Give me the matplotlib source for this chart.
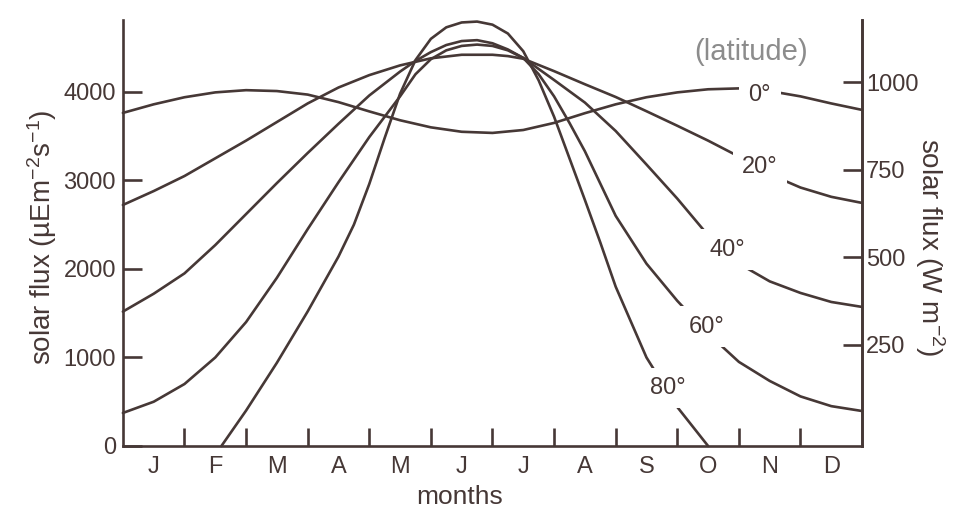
import matplotlib
matplotlib.use("Agg")
from matplotlib import pyplot as plt

plt.rcParams['font.family'] = ['Liberation Sans', 'DejaVu Sans']
plt.rcParams['mathtext.default'] = 'regular'

ink = "#463836"

# month position (0 = start of Jan, 12 = end of Dec) and flux in uE m-2 s-1
months = ["J", "F", "M", "A", "M", "J", "J", "A", "S", "O", "N", "D"]

m_lat0 = [0, 0.5, 1, 1.5, 2, 2.5, 3, 3.5, 4, 4.5, 5, 5.5, 6, 6.5, 7, 7.5,
          8, 8.5, 9, 9.5, 10, 10.5, 11, 11.5, 12]
lat0 = [3763, 3860, 3940, 3995, 4020, 4010, 3970, 3885, 3780, 3680, 3600, 3550,
        3537, 3570, 3650, 3760, 3860, 3940, 3995, 4030, 4040, 4010, 3950, 3870, 3797]

m_lat20 = [0, 0.5, 1, 1.5, 2, 2.5, 3, 3.5, 4, 4.5, 5, 5.5, 6, 6.25, 6.5, 7, 7.5,
           8, 8.5, 9, 9.5, 10, 10.5, 11, 11.5, 12]
lat20 = [2723, 2880, 3050, 3250, 3450, 3660, 3870, 4050, 4190, 4300, 4380, 4420,
         4420, 4405, 4375, 4235, 4087, 3943, 3782, 3618, 3450, 3270, 3070, 2920,
         2815, 2746]

m_lat40 = [0, 0.5, 1, 1.5, 2, 2.5, 3, 3.5, 4, 4.5, 4.75, 5, 5.25, 5.5, 5.75, 6,
           6.25, 6.5, 7, 7.5, 8, 8.5, 9, 9.5, 10, 10.5, 11, 11.5, 12]
lat40 = [1518, 1720, 1950, 2270, 2620, 2970, 3310, 3640, 3960, 4230, 4350, 4450,
         4530, 4575, 4585, 4550, 4480, 4384, 4135, 3880, 3559, 3180, 2795, 2380,
         2060, 1860, 1729, 1627, 1571]

m_lat60 = [0, 0.5, 1, 1.5, 2, 2.5, 3, 3.5, 4, 4.25, 4.5, 4.75, 5, 5.25, 5.5, 5.75,
           6, 6.25, 6.5, 6.75, 7, 7.25, 7.5, 8, 8.5, 9, 9.5, 10, 10.5, 11, 11.5, 12]
lat60 = [373, 500, 700, 1000, 1400, 1900, 2450, 2980, 3490, 3720, 3950, 4200,
         4370, 4470, 4520, 4535, 4520, 4470, 4384, 4200, 3950, 3650, 3330, 2600,
         2060, 1640, 1270, 950, 735, 560, 450, 395]

m_lat80 = [1.6, 2, 2.5, 3, 3.5, 3.75, 4, 4.25, 4.5, 4.75, 5, 5.25, 5.5, 5.75, 6,
           6.25, 6.5, 6.75, 7, 7.25, 7.5, 7.75, 8, 8.5, 9, 9.5]
lat80 = [0, 400, 940, 1520, 2140, 2500, 2960, 3480, 3980, 4360, 4600, 4730, 4785,
         4795, 4760, 4660, 4460, 4130, 3720, 3250, 2780, 2300, 1800, 1000, 440, 0]

# latitude labels: (text, month position, flux)
labels = [("0°", 10.34, 3966), ("20°", 10.34, 3153), ("40°", 9.82, 2215),
          ("60°", 9.48, 1345), ("80°", 8.85, 655)]

w_ticks = [250, 500, 750, 1000]

fig = plt.figure(figsize=(9.6, 5.19), dpi=100)
ax = fig.add_axes([0.128, 0.1407, 0.77, 0.8208])

curves = [(m_lat0, lat0), (m_lat20, lat20), (m_lat40, lat40),
          (m_lat60, lat60), (m_lat80, lat80)]
for mx, y in curves:
    ax.plot(mx, y, color=ink, lw=1.9, solid_capstyle="round",
            solid_joinstyle="round", clip_on=False)

for txt, mx, my in labels:
    ax.text(mx, my, txt, fontsize=17, color=ink, ha="center", va="center",
            bbox=dict(boxstyle="square,pad=0.4", fc="white", ec="none"), zorder=5)

ax.text(10.2, 4452, "(latitude)", fontsize=21, color="#8c8c8c", ha="center", va="center")

ax.set_xlim(0, 12)
ax.set_ylim(0, 4813)
ax.spines["top"].set_visible(False)
for s in ["left", "bottom", "right"]:
    ax.spines[s].set_color(ink)
    ax.spines[s].set_linewidth(1.9)

# month boundaries as inward ticks, month letters centred between them
ax.set_xticks(range(1, 12))
ax.set_xticklabels([])
ax.set_xticks([i + 0.5 for i in range(12)], minor=True)
ax.set_xticklabels(months, minor=True)
ax.tick_params(axis="x", which="major", direction="in", length=13, width=1.9, color=ink)
ax.tick_params(axis="x", which="minor", length=0, pad=7, labelsize=17, labelcolor=ink)

ax.set_yticks([0, 1000, 2000, 3000, 4000])
ax.tick_params(axis="y", direction="in", length=14, width=1.9, color=ink,
               labelsize=17, labelcolor=ink, pad=5)

ax2 = ax.twinx()
ax2.set_ylim(-38.6, 1178.6)
ax2.set_yticks(w_ticks)
ax2.tick_params(axis="y", direction="in", length=14, width=1.9, color=ink,
                labelsize=17, labelcolor=ink, pad=3)
for s in ["top", "left", "bottom"]:
    ax2.spines[s].set_visible(False)
ax2.spines["right"].set_color(ink)
ax2.spines["right"].set_linewidth(1.9)

fig.text(460 / 960, 1 - 497 / 519, "months", fontsize=19, color=ink,
         ha="center", va="center")
fig.text(42 / 960, 1 - 237 / 519, "solar flux (µEm$^{-2}$s$^{-1}$)", fontsize=20,
         color=ink, rotation=90, ha="center", va="center")
fig.text(930 / 960, 1 - 247 / 519, "solar flux (W m$^{-2}$)", fontsize=20,
         color=ink, rotation=270, ha="center", va="center")

fig.savefig("out.png", dpi=100)
